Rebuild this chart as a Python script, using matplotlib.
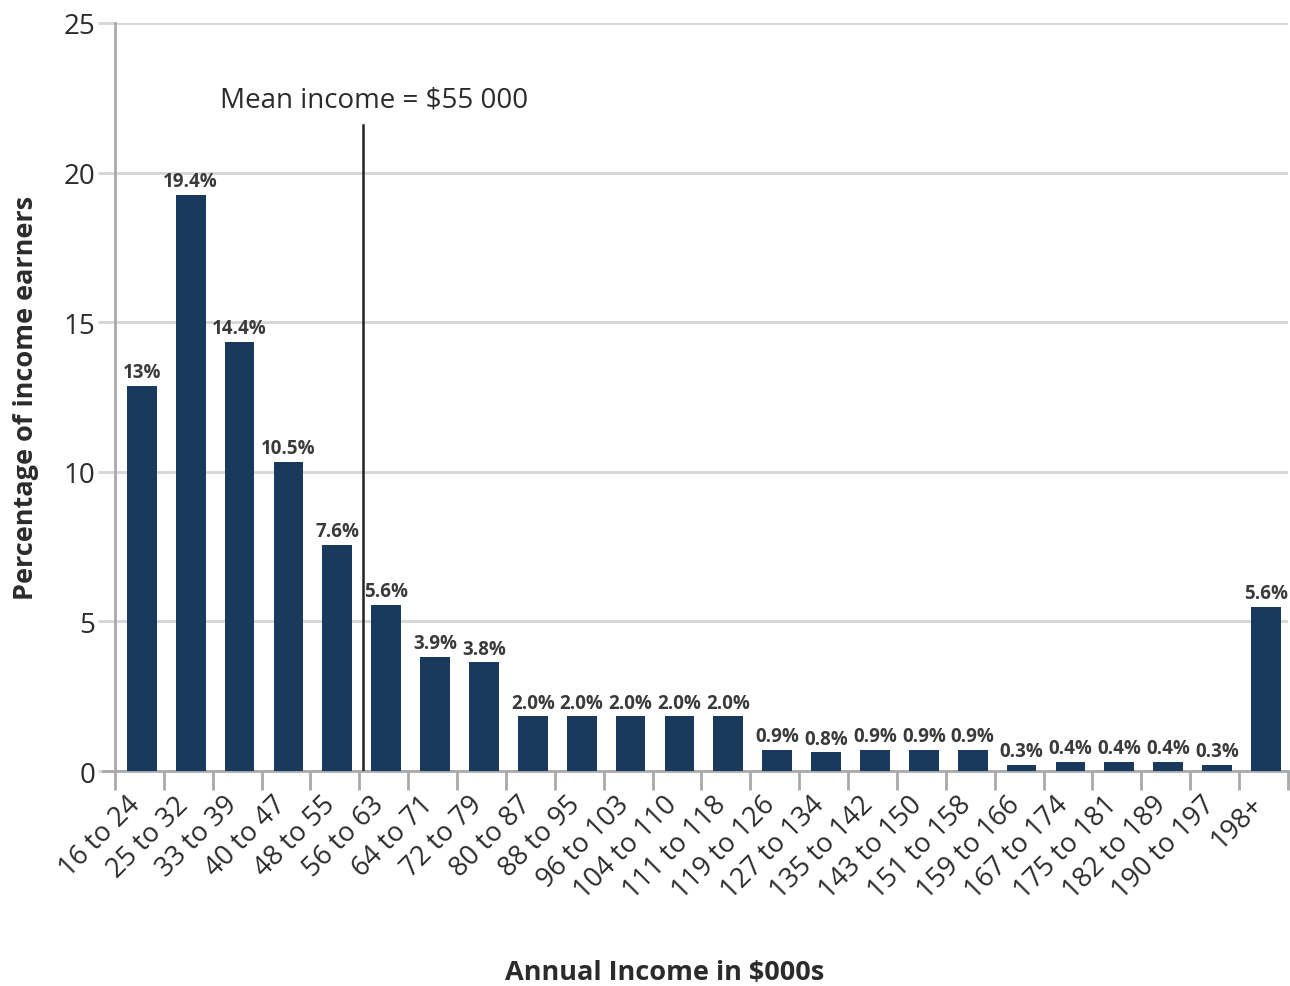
import matplotlib
matplotlib.use("Agg")
import matplotlib.pyplot as plt
import matplotlib.transforms as mtransforms
import numpy as np

plt.rcParams['font.family'] = ['Open Sans', 'DejaVu Sans']

# income brackets ($000s) and share of earners (bar heights)
categories = ["16 to 24", "25 to 32", "33 to 39", "40 to 47", "48 to 55", "56 to 63",
              "64 to 71", "72 to 79", "80 to 87", "88 to 95", "96 to 103", "104 to 110",
              "111 to 118", "119 to 126", "127 to 134", "135 to 142", "143 to 150",
              "151 to 158", "159 to 166", "167 to 174", "175 to 181", "182 to 189",
              "190 to 197", "198+"]
heights = [12.88, 19.25, 14.34, 10.33, 7.56, 5.55, 3.82, 3.63, 1.83, 1.83, 1.83, 1.83,
           1.83, 0.71, 0.62, 0.71, 0.71, 0.71, 0.21, 0.30, 0.30, 0.30, 0.21, 5.49]
bar_labels = ["13%", "19.4%", "14.4%", "10.5%", "7.6%", "5.6%", "3.9%", "3.8%",
              "2.0%", "2.0%", "2.0%", "2.0%", "2.0%", "0.9%", "0.8%", "0.9%", "0.9%",
              "0.9%", "0.3%", "0.4%", "0.4%", "0.4%", "0.3%", "5.6%"]
yticks = [0, 5, 10, 15, 20, 25]
mean_pos = 4.52   # position of the mean line on the category axis
mean_top = 21.6

bar_color = '#193a5c'
grid_color = '#d6d6d6'
axis_color = '#a9a9a9'
text_color = '#2b2b2b'

fig = plt.figure(figsize=(12.9, 9.87), dpi=100)
ax = fig.add_axes([0.0891, 0.2178, 0.9093, 0.7579])

x = np.arange(len(categories))
bars = ax.bar(x, heights, width=0.61, color=bar_color, zorder=3)

for b, lab in zip(bars, bar_labels):
    ax.text(b.get_x() + b.get_width() / 2, b.get_height() + 0.12, lab,
            ha='center', va='bottom', fontsize=13.5, fontweight='bold',
            color='#3a3a3a', zorder=4)

# mean line
ax.plot([mean_pos, mean_pos], [0, mean_top], color='#222222', lw=1.8, zorder=5)
ax.text(mean_pos + 0.24, 22.45, "Mean income = $55 000", ha='center', va='center',
        fontsize=20, color=text_color)

ax.set_xlim(-0.55, 23.45)
ax.set_ylim(0, 25)
ax.set_yticks(yticks)
ax.yaxis.grid(True, color=grid_color, lw=2, zorder=0)
ax.tick_params(axis='y', length=12, width=2, color=grid_color, labelsize=20,
               labelcolor=text_color, pad=2)

ax.set_xticks(x)
ax.set_xticklabels(categories, rotation=45, ha='right', rotation_mode='anchor',
                   fontsize=19.5, color=text_color)
ax.set_xticks(np.arange(-0.55, 23.5, 1), minor=True)
ax.tick_params(axis='x', which='major', length=0, pad=14)
ax.tick_params(axis='x', which='minor', length=14, width=2, color=axis_color)
shift = mtransforms.ScaledTranslation(-0.16, 0, fig.dpi_scale_trans)
for lbl in ax.get_xticklabels():
    lbl.set_transform(lbl.get_transform() + shift)

for s in ['top', 'right']:
    ax.spines[s].set_visible(False)
ax.spines['left'].set_color(axis_color)
ax.spines['left'].set_linewidth(2)
ax.spines['bottom'].set_color(axis_color)
ax.spines['bottom'].set_linewidth(2)
ax.spines['bottom'].set_bounds(-0.8, 23.45)

ax.set_ylabel('Percentage of income earners', fontsize=19.5, fontweight='bold',
              color=text_color, labelpad=18)
fig.text(0.5155, 0.007, 'Annual Income in $000s', ha='center', va='baseline',
         fontsize=19.5, fontweight='bold', color=text_color)

fig.savefig('out.png', dpi=100)
